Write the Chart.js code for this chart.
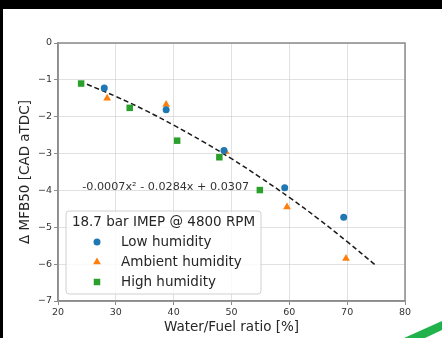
<!DOCTYPE html>
<html>
<head>
<meta charset="utf-8">
<script src="https://cdn.jsdelivr.net/npm/chart.js@4/dist/chart.umd.min.js"></script>
<style>
  html, body { margin: 0; padding: 0; background: #000; }
  #wrap {
    position: absolute; left: 0; top: 0; width: 442px; height: 338px;
    background: #fff;
    clip-path: polygon(3px 9px, 442px 9px, 442px 338px, 3px 338px);
  }
  #swoosh {
    position: absolute; left: 0; top: 0; width: 442px; height: 338px;
    background: #22b24c;
    clip-path: polygon(404px 338px, 442px 321px, 442px 330px, 425px 338px);
  }
  canvas { display: block; }
</style>
</head>
<body>
<div id="wrap"><canvas id="chart" width="442" height="338"></canvas></div>
<div id="swoosh"></div>
<script>
// ---------------- DATA ----------------
const LOW_X = [28, 38.7, 48.7, 59.2, 69.4];
const LOW_Y = [-1.22, -1.81, -2.92, -3.93, -4.73];

const AMB_X = [28.5, 38.7, 49.0, 59.6, 69.8];
const AMB_Y = [-1.5, -1.67, -2.95, -4.45, -5.85];

const HIGH_X = [24.0, 32.4, 40.6, 47.9, 54.9];
const HIGH_Y = [-1.1, -1.76, -2.65, -3.1, -3.99];

// fit curve, read at 5 % steps
const FIT_X = [25, 30, 35, 40, 45, 50, 55, 60, 65, 70, 75];
const FIT_Y = [-1.12, -1.45, -1.82, -2.23, -2.67, -3.14, -3.65, -4.19, -4.77, -5.39, -6.04];

const FIT_LABEL = '-0.0007x\u00b2 - 0.0284x + 0.0307';
const FIT_LABEL_AT = { x: 24.2, y: -3.92 };

const LEGEND_TITLE = '18.7 bar IMEP @ 4800 RPM';
const SERIES_NAMES = ['Low humidity', 'Ambient humidity', 'High humidity'];

const X_TICKS = [20, 30, 40, 50, 60, 70, 80];
const Y_TICKS = [0, -1, -2, -3, -4, -5, -6, -7];

// ---------------- STYLE ----------------
const BLUE = '#1f77b4', ORANGE = '#ff7f0e', GREEN = '#2ca02c';
const FONT = "'DejaVu Sans', sans-serif";
const SPINE = '#8c8c8c';
const GRID = 'rgba(200,200,200,0.55)';

const pts = (xs, ys) => xs.map((x, i) => ({ x: x, y: ys[i] }));

// box round the plot + fit label + legend inside the plot
const extras = {
  id: 'extras',
  afterDatasetsDraw(chart) {
    const { ctx, chartArea: a, scales } = chart;
    ctx.save();
    ctx.strokeStyle = SPINE;
    ctx.lineWidth = 1.5;
    ctx.strokeRect(a.left, a.top, a.right - a.left, a.bottom - a.top);

    // fit equation
    ctx.fillStyle = '#333';
    ctx.font = '11.2px ' + FONT;
    ctx.textBaseline = 'middle';
    ctx.textAlign = 'left';
    ctx.fillText(FIT_LABEL, scales.x.getPixelForValue(FIT_LABEL_AT.x), scales.y.getPixelForValue(FIT_LABEL_AT.y));

    // legend
    const bx = 66, by = 211, bw = 195, bh = 83;
    ctx.beginPath();
    ctx.roundRect(bx, by, bw, bh, 3);
    ctx.fillStyle = 'rgba(255,255,255,0.85)';
    ctx.fill();
    ctx.strokeStyle = '#d0d0d0';
    ctx.lineWidth = 1;
    ctx.stroke();

    ctx.fillStyle = '#262626';
    ctx.font = '13.5px ' + FONT;
    ctx.textAlign = 'center';
    ctx.fillText(LEGEND_TITLE, bx + bw / 2, 222);

    const styles = [['circle', BLUE, 3.5], ['triangle', ORANGE, 4.5], ['rect', GREEN, 4.6]];
    const rows = [242, 262, 282];
    ctx.textAlign = 'left';
    styles.forEach((s, i) => {
      ctx.fillStyle = s[1];
      ctx.strokeStyle = s[1];
      Chart.helpers.drawPoint(ctx, { pointStyle: s[0], radius: s[2], borderWidth: 0, rotation: 0 }, 97, rows[i]);
      ctx.fillStyle = '#262626';
      ctx.fillText(SERIES_NAMES[i], 121, rows[i]);
    });
    ctx.restore();
  }
};

const tickFmt = v => String(v).replace('-', '\u2212');

new Chart(document.getElementById('chart'), {
  type: 'scatter',
  data: {
    datasets: [
      { label: SERIES_NAMES[0], data: pts(LOW_X, LOW_Y), pointStyle: 'circle', pointRadius: 3.5,
        backgroundColor: BLUE, borderColor: BLUE, borderWidth: 0 },
      { label: SERIES_NAMES[1], data: pts(AMB_X, AMB_Y), pointStyle: 'triangle', pointRadius: 4.5,
        backgroundColor: ORANGE, borderColor: ORANGE, borderWidth: 0 },
      { label: SERIES_NAMES[2], data: pts(HIGH_X, HIGH_Y), pointStyle: 'rect', pointRadius: 4.6,
        backgroundColor: GREEN, borderColor: GREEN, borderWidth: 0 },
      { label: 'fit', data: pts(FIT_X, FIT_Y), showLine: true, pointRadius: 0,
        borderColor: '#1a1a1a', borderWidth: 1.5, borderDash: [5, 3], tension: 0.4, fill: false }
    ]
  },
  options: {
    responsive: false,
    animation: false,
    layout: { padding: { left: 0, top: 43, right: 37, bottom: 0 } },
    plugins: { legend: { display: false }, tooltip: { enabled: false } },
    scales: {
      x: {
        type: 'linear', min: 20, max: 80,
        afterFit: s => { s.height = 37; },
        afterBuildTicks: s => { s.ticks = X_TICKS.map(v => ({ value: v })); },
        ticks: { color: '#333', font: { family: FONT, size: 9.5 }, padding: 2, maxRotation: 0 },
        grid: { color: GRID, tickColor: SPINE, tickLength: 4, lineWidth: 1 },
        border: { color: SPINE, width: 1.5 },
        title: { display: true, text: 'Water/Fuel ratio [%]', color: '#262626',
                 font: { family: FONT, size: 13.5 }, padding: { top: 0, bottom: 2 } }
      },
      y: {
        type: 'linear', min: -7, max: 0,
        afterFit: s => { s.width = 58; },
        afterBuildTicks: s => { s.ticks = Y_TICKS.map(v => ({ value: v })); },
        ticks: { color: '#333', font: { family: FONT, size: 9.5 }, padding: 2, callback: tickFmt },
        grid: { color: GRID, tickColor: SPINE, tickLength: 4, lineWidth: 1 },
        border: { color: SPINE, width: 1.5 },
        title: { display: true, text: '\u0394 MFB50 [CAD aTDC]', color: '#262626',
                 font: { family: FONT, size: 13.5 }, padding: { top: 17, bottom: 0 } }
      }
    }
  },
  plugins: [extras]
});
</script>
</body>
</html>
